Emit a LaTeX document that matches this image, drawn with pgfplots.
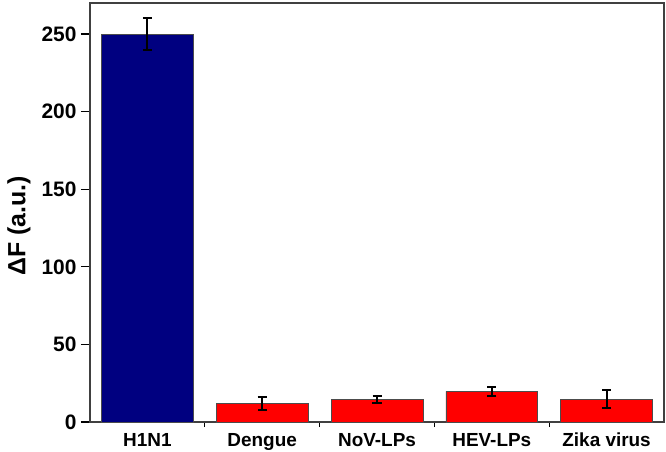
\documentclass[border=0pt]{standalone}
\usepackage{pgfplots}
\pgfplotsset{compat=1.18}
\usepackage{fontspec}
\setmainfont{Liberation Sans}
\definecolor{barblue}{RGB}{0,0,128}
\definecolor{barred}{RGB}{255,0,0}
\begin{document}
\begin{tikzpicture}
\begin{axis}[
    scale only axis,
    width=574bp, height=419bp,
    xmin=-0.5, xmax=4.5,
    ymin=0, ymax=270,
    ytick={0,50,...,250},
    xtick={0,1,2,3,4},
    xticklabels={H1N1,Dengue,NoV-LPs,HEV-LPs,Zika virus},
    minor xtick={0.5,1.5,2.5,3.5},
    major x tick style={draw=none},
    tick align=outside,
    xtick pos=bottom, ytick pos=left,
    major tick length=9bp, minor tick length=5bp,
    tick style={black, line width=1.2bp},
    axis line style={line width=1.2bp, black!75},
    /pgf/number format/assume math mode=true,
    yticklabel style={font=\fontsize{21}{24}\selectfont\bfseries, xshift=-1bp},
    xticklabel style={font=\fontsize{19}{22}\selectfont\bfseries, inner sep=0pt, yshift=-2bp},
    ylabel={ΔF (a.u.)},
    ylabel style={font=\fontsize{25}{28}\selectfont\bfseries, at={(axis description cs:-0.124,0.468)}, anchor=center},
    ybar, bar width=0.8, bar shift=0pt,
    error bars/error bar style={black, line width=2bp},
    error bars/error mark options={black, rotate=90, mark size=4.5bp, line width=2bp},
]
\addplot[fill=barblue, draw=black!70, line width=0.6bp,
    error bars/.cd, y dir=both, y explicit]
    coordinates {(0,250) +- (0,10.5)};
\addplot[fill=barred, draw=black!70, line width=0.6bp,
    error bars/.cd, y dir=both, y explicit]
    coordinates {(1,12) +- (0,4) (2,14.6) +- (0,2.2) (3,19.8) +- (0,3) (4,14.8) +- (0,5.5)};
\end{axis}
\pgfresetboundingbox
\path[use as bounding box] ([shift={(-90bp,-30bp)}]current axis.south west) rectangle ([shift={(2bp,3bp)}]current axis.north east);
\end{tikzpicture}
\end{document}
